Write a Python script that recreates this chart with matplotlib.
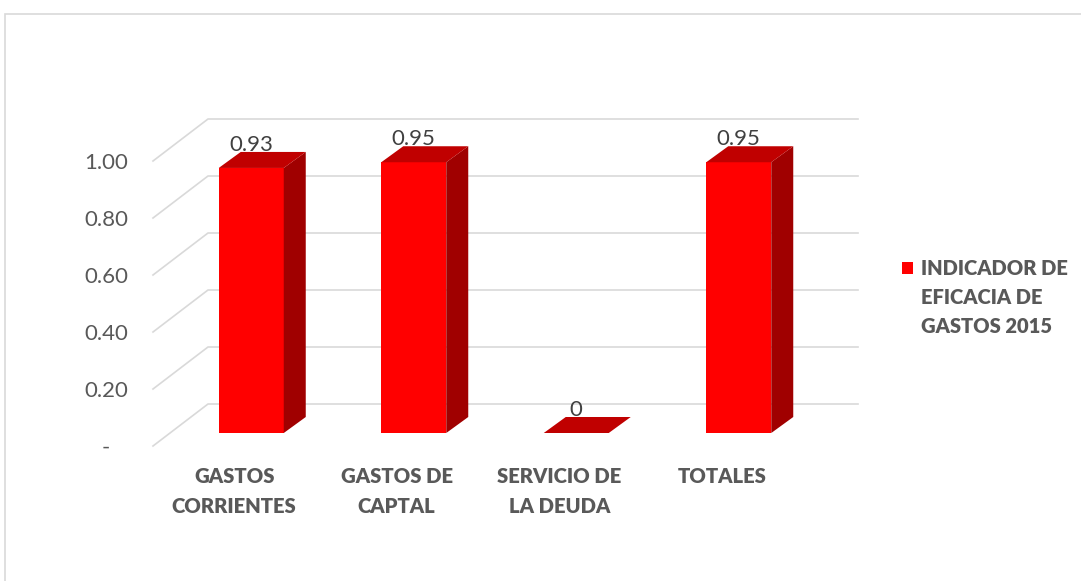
import matplotlib
matplotlib.use("Agg")
import matplotlib.pyplot as plt
from matplotlib.patches import Polygon, Rectangle
from matplotlib.lines import Line2D
from matplotlib.transforms import ScaledTranslation
import numpy as np

# ---- data ----
categories = ["GASTOS\nCORRIENTES", "GASTOS DE\nCAPTAL", "SERVICIO DE\nLA DEUDA", "TOTALES"]
values = [0.93, 0.95, 0.0, 0.95]
value_labels = ["0.93", "0.95", "0", "0.95"]
y_ticks = [0.0, 0.2, 0.4, 0.6, 0.8, 1.0]
y_tick_labels = ["-   ", "0.20", "0.40", "0.60", "0.80", "1.00"]
series_name_lines = ["INDICADOR DE", "EFICACIA DE", "GASTOS 2015"]

# ---- style ----
W, H, DPI = 1081, 581, 100
FRONT = "#FF0000"
TOP = "#C00000"
SIDE = "#A00000"
GRID = "#D9D9D9"
TXT = "#595959"
WALL_D = (55, 42)      # depth of the floor / back wall (px)
BAR_F = (17, 13)       # bar front face offset (px)
BAR_B = (39, 29)       # bar back face offset (px)
BAR_W = 0.4

plt.rcParams['font.family'] = ['Lato', 'DejaVu Sans']
fig = plt.figure(figsize=(W / DPI, H / DPI), dpi=DPI)

left, right, y0px, y1px = 153, 803, 446, 161
ax = fig.add_axes([left / W, (H - y0px) / H, (right - left) / W, (y0px - y1px) / H])
ax.set_xlim(-0.5, len(categories) - 0.5)
ax.set_ylim(0, 1.0)
for s in ax.spines.values():
    s.set_visible(False)
ax.patch.set_visible(False)


def proj(x, v, off):
    d = ax.transData.transform((x, v)) + np.array(off, dtype=float)
    return ax.transData.inverted().transform(d)


def shifted(off):
    return ax.transData + ScaledTranslation(off[0] / DPI, off[1] / DPI, fig.dpi_scale_trans)


x_lo, x_hi = -0.5, len(categories) - 0.5
# gridlines: diagonal on the side wall + horizontal on back wall
for v in y_ticks:
    a = proj(x_lo, v, (0, 0))
    b = proj(x_lo, v, WALL_D)
    c = proj(x_hi, v, WALL_D)
    ax.add_line(Line2D([a[0], b[0], c[0]], [a[1], b[1], c[1]], color=GRID,
                       lw=1.2, zorder=0, clip_on=False))

# bars
xs = np.arange(len(categories))
bars = ax.bar(xs, values, width=BAR_W, color=FRONT, linewidth=0, zorder=3,
              transform=shifted(BAR_F), clip_on=False)
for x, v, lab in zip(xs, values, value_labels):
    l, r = x - BAR_W / 2, x + BAR_W / 2
    side = [proj(r, 0, BAR_F), proj(r, v, BAR_F), proj(r, v, BAR_B), proj(r, 0, BAR_B)]
    top = [proj(l, v, BAR_F), proj(r, v, BAR_F), proj(r, v, BAR_B), proj(l, v, BAR_B)]
    ax.add_patch(Polygon(side, closed=True, fc=SIDE, ec='none', zorder=3, clip_on=False))
    ax.add_patch(Polygon(top, closed=True, fc=TOP, ec='none', zorder=3, clip_on=False))
    px = proj(x, v, BAR_F)[0]
    py = proj(x, v, BAR_B)[1]
    ax.text(px, py + 0.003, lab, ha='center', va='baseline', fontsize=16, color="#404040",
            zorder=5, clip_on=False)

# axes ticks
ax.set_yticks(y_ticks)
ax.set_yticklabels(y_tick_labels)
ax.set_xticks(xs)
ax.set_xticklabels(categories, fontweight='heavy', linespacing=1.7)
ax.tick_params(axis='y', length=0, pad=18, labelsize=16, labelcolor=TXT)
ax.tick_params(axis='x', length=0, pad=15, labelsize=14.6, labelcolor=TXT)

# legend: first line carries the colour square
blank = Rectangle((0, 0), 1, 1, fc='none', ec='none')
leg = fig.legend(handles=[bars, blank, blank], labels=series_name_lines, loc='upper left',
                 bbox_to_anchor=(888 / W, 1 - 245 / H), frameon=False,
                 handlelength=0.55, handleheight=0.55, handletextpad=0.38,
                 labelspacing=0.5, borderpad=0.2,
                 prop={'weight': 'heavy', 'size': 14.5}, labelcolor=TXT)

# chart frame (only top and left edges visible)
fig.add_artist(Rectangle((4.5 / W, -0.1), 1.2, 1.1 - 13.5 / H,
                         transform=fig.transFigure, fill=False, ec=GRID, lw=1.2))

fig.savefig("out.png", dpi=DPI)
